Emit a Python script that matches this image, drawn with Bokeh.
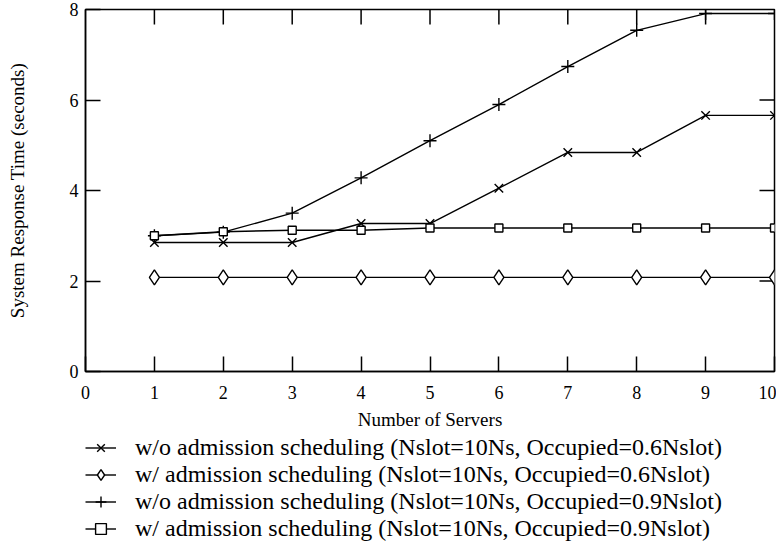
import math
from bokeh.plotting import figure
from bokeh.layouts import column
from bokeh.models import FixedTicker, Legend, LegendItem, Range1d
from bokeh.embed import file_html
from bokeh.resources import INLINE

# ---- data ----
servers = [1, 2, 3, 4, 5, 6, 7, 8, 9, 10]
wo_06 = [2.85, 2.85, 2.85, 3.27, 3.27, 4.05, 4.84, 4.84, 5.66, 5.66]
w_06 = [2.08, 2.08, 2.08, 2.08, 2.08, 2.08, 2.08, 2.08, 2.08, 2.08]
wo_09 = [3.0, 3.08, 3.5, 4.28, 5.1, 5.9, 6.74, 7.54, 7.91, 7.91]
w_09 = [3.0, 3.09, 3.12, 3.12, 3.17, 3.17, 3.17, 3.17, 3.17, 3.17]

labels = [
    "w/o admission scheduling (Nslot=10Ns, Occupied=0.6Nslot)",
    "w/ admission scheduling (Nslot=10Ns, Occupied=0.6Nslot)",
    "w/o admission scheduling (Nslot=10Ns, Occupied=0.9Nslot)",
    "w/ admission scheduling (Nslot=10Ns, Occupied=0.9Nslot)",
]
x_ticks = [0, 1, 2, 3, 4, 5, 6, 7, 8, 9, 10]
y_ticks = [0, 2, 4, 6, 8]
x_min, x_max = 0, 10
y_min, y_max = 0, 8

FONT = "Liberation Serif"

p = figure(width=776, height=433, output_backend="svg", toolbar_location=None,
           x_range=Range1d(x_min, x_max), y_range=Range1d(y_min, y_max),
           min_border_left=85, min_border_top=9, min_border_right=2, min_border_bottom=62)
p.grid.visible = False
p.outline_line_color = "black"
p.outline_line_width = 1.5
p.background_fill_color = "white"
p.border_fill_color = "white"

def style_axis(ax):
    ax.axis_line_color = "black"
    ax.axis_line_width = 1.5
    ax.major_tick_line_color = "black"
    ax.major_tick_line_width = 1.5
    ax.major_tick_in = 15
    ax.major_tick_out = 0
    ax.minor_tick_line_color = None
    ax.major_label_text_font = FONT
    ax.major_label_text_color = "black"
    ax.axis_label_text_font = FONT
    ax.axis_label_text_font_style = "normal"
    ax.axis_label_text_color = "black"

xa = p.xaxis[0]
xa.ticker = FixedTicker(ticks=x_ticks)
style_axis(xa)
xa.major_label_text_font_size = "18px"
xa.major_label_standoff = 14
xa.axis_label = "Number of Servers"
xa.axis_label_text_font_size = "19px"
xa.axis_label_standoff = 7

ya = p.yaxis[0]
ya.ticker = FixedTicker(ticks=y_ticks)
style_axis(ya)
ya.major_label_text_font_size = "18px"
ya.major_label_standoff = 7
ya.axis_label = "System Response Time (seconds)"
ya.axis_label_text_font_size = "19px"
ya.axis_label_standoff = 39

# mirrored inward ticks on top and right edges
inner_x = x_ticks[1:-1]
inner_y = y_ticks[1:-1]
p.ray(x=inner_x, y=[y_max] * len(inner_x), length=15, length_units="screen",
      angle=-math.pi / 2, line_color="black", line_width=1.5)
p.ray(x=[x_max] * len(inner_y), y=inner_y, length=15, length_units="screen",
      angle=math.pi, line_color="black", line_width=1.5)

# (values, marker, size on chart, size in legend)
series = [
    (wo_06, "x", 12, 10),
    (w_06, "diamond", 15, 13),
    (wo_09, "cross", 13, 11),
    (w_09, "square", 8, 7),
]

# legend placed in a separate strip below the chart
q = figure(width=776, height=117, output_backend="svg", toolbar_location=None,
           min_border_left=83, min_border_top=1, min_border_right=1, min_border_bottom=0)
q.axis.visible = False
q.grid.visible = False
q.outline_line_color = None
q.border_fill_color = "white"

items = []
for (ys, marker, size, lsize), lab in zip(series, labels):
    p.line(servers, ys, line_color="black", line_width=1.4)
    p.scatter(servers, ys, marker=marker, size=size, line_color="black",
              line_width=1.4, fill_color="white")
    lr = q.line(servers, ys, line_color="black", line_width=1.4, visible=False)
    sr = q.scatter(servers, ys, marker=marker, size=lsize, line_color="black",
                   line_width=1.4, fill_color="white", visible=False)
    items.append(LegendItem(label=lab, renderers=[lr, sr]))

legend = Legend(items=items, location="top_left", orientation="vertical",
                label_text_font=FONT, label_text_font_size="24px", label_text_color="black",
                glyph_width=31, glyph_height=27, label_height=27, spacing=0,
                label_standoff=19, padding=0, margin=0,
                border_line_color=None, background_fill_alpha=0)
q.add_layout(legend, "center")

open("out.html", "w").write(file_html(column(p, q, spacing=0), INLINE))
